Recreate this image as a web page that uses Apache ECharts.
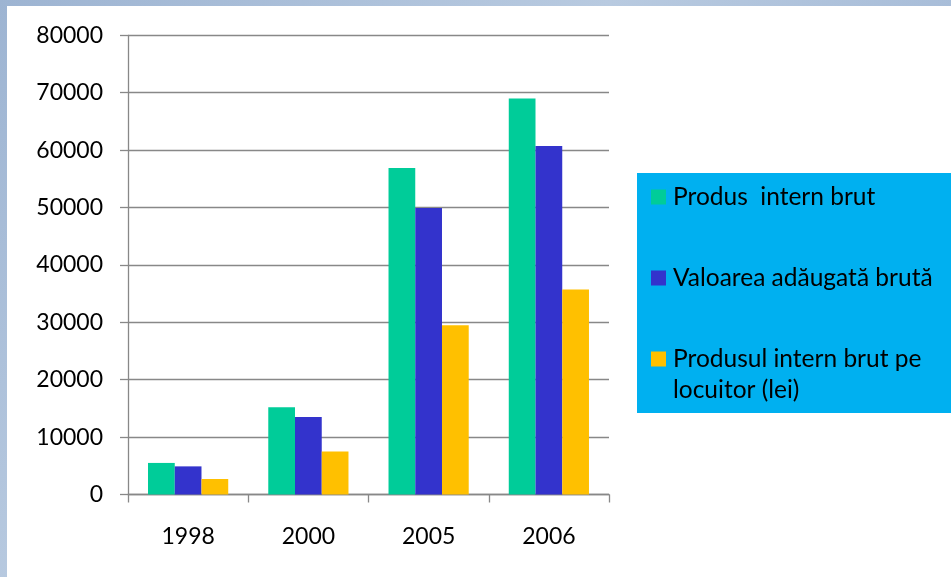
<!DOCTYPE html>
<html>
<head>
<meta charset="utf-8">
<script src="https://cdn.jsdelivr.net/npm/echarts@6/dist/echarts.min.js"></script>
<style>
  html, body { margin: 0; padding: 0; width: 951px; height: 577px; overflow: hidden; }
  body { background: linear-gradient(135deg, #9db4d2 0%, #b8cae0 40%, #a3b9d6 70%, #c3d2e5 100%); position: relative; }
  #chart { position: absolute; left: 7px; top: 6px; width: 944px; height: 571px; background: #ffffff; }
</style>
</head>
<body>
<div id="chart"></div>
<script>
const categories = ['1998', '2000', '2005', '2006'];
const seriesNames = ['Produs  intern brut', 'Valoarea adăugată brută', 'Produsul intern brut pe locuitor (lei)'];
const legendLabels = [' \nProdus  intern brut\n ', ' \nValoarea adăugată brută\n ', ' \nProdusul intern brut pe\nlocuitor (lei)'];
const pib = [5500, 15200, 56900, 69000];
const vab = [4900, 13500, 49900, 60700];
const pibLocuitor = [2700, 7500, 29500, 35700];
const yTicks = { min: 0, max: 80000, interval: 10000 };

const colors = ['#00CC99', '#3333CC', '#FFC000'];
const fontFamily = 'Lato, "Open Sans", sans-serif';
const axisColor = '#888888';

const chart = echarts.init(document.getElementById('chart'), null, { renderer: 'canvas' });

const values = [pib, vab, pibLocuitor];
const series = seriesNames.map((name, i) => ({
  name: name,
  type: 'bar',
  data: values[i],
  barGap: '0%',
  barCategoryGap: '33.3%',
  itemStyle: { color: colors[i] },
  emphasis: { disabled: true }
}));

chart.setOption({
  animation: false,
  color: colors,
  textStyle: { fontFamily: fontFamily },
  grid: { left: 121, top: 29.3, width: 481, height: 459.2, containLabel: false },
  xAxis: {
    type: 'category',
    data: categories,
    axisLine: { show: true, lineStyle: { color: axisColor, width: 1.3 } },
    axisTick: { show: true, length: 8, lineStyle: { color: axisColor, width: 1.3 } },
    axisLabel: { color: '#000', fontSize: 23, fontFamily: fontFamily, margin: 31 },
    splitLine: { show: false }
  },
  yAxis: {
    type: 'value',
    min: yTicks.min,
    max: yTicks.max,
    interval: yTicks.interval,
    axisLine: { show: true, lineStyle: { color: axisColor, width: 1.3 } },
    axisTick: { show: true, length: 8, lineStyle: { color: axisColor, width: 1.3 } },
    axisLabel: { color: '#000', fontSize: 23, fontFamily: fontFamily, margin: 25, formatter: function (v) { return String(v); } },
    splitLine: { show: true, lineStyle: { color: axisColor, width: 1.3 } }
  },
  legend: {
    orient: 'vertical',
    left: 630,
    top: 167,
    icon: 'rect',
    itemWidth: 15,
    itemHeight: 15,
    itemGap: -12,
    backgroundColor: '#00B0F0',
    padding: [-22.5, 40, 7.5, 14],
    selectedMode: false,
    formatter: function (name) {
      return legendLabels[seriesNames.indexOf(name)];
    },
    textStyle: { color: '#000', fontSize: 24.5, fontFamily: fontFamily, lineHeight: 31, padding: [0, 0, 0, 2] },
    data: seriesNames
  },
  series: series
});
</script>
</body>
</html>
